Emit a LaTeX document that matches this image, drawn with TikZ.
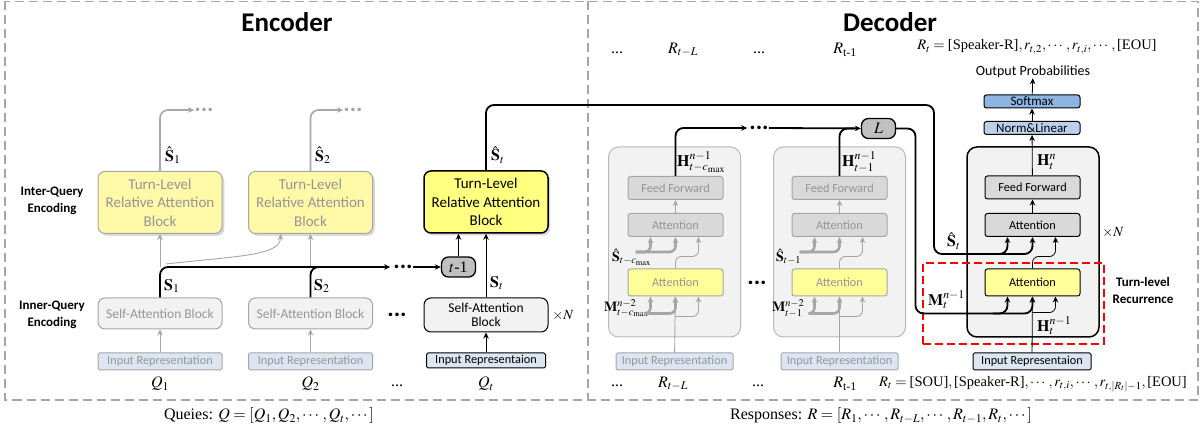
\documentclass[tikz,border=0pt]{standalone}
\usepackage{amsmath}
\usepackage{mathptmx}
\usepackage[no-math]{fontspec}
\setmainfont{Liberation Serif}
\newfontfamily\cali{Carlito}
\usetikzlibrary{arrows.meta,calc,shadows}

\definecolor{tlyellow}{HTML}{FFFF80}
\definecolor{fadeyellow}{HTML}{FFF9A8}
\definecolor{attyellow}{HTML}{FFFF99}
\definecolor{inblue}{HTML}{DCE6F2}
\definecolor{smblue}{HTML}{8DB4E2}
\definecolor{nlblue}{HTML}{B9D1EA}
\definecolor{panel}{HTML}{F2F2F2}
\definecolor{fadegray}{HTML}{A6A6A6}
\definecolor{fadetext}{HTML}{959595}
\definecolor{boxgray}{HTML}{D9D9D9}
\definecolor{tagfill}{HTML}{C0C0C0}

\begin{document}
\begin{tikzpicture}[x=1pt,y=-1pt,
  >={Stealth[length=6pt,width=5.5pt]},
  every node/.style={inner sep=0pt},
  blk/.style={rectangle,draw,rounded corners=2.5pt,align=center,
    font=\cali\fontsize{12.3}{14}\selectfont},
  tlblk/.style={blk,rounded corners=7pt,minimum width=124pt,minimum height=62pt,
    fill=tlyellow,line width=1.5pt,drop shadow={opacity=0.3},
    font=\cali\fontsize{15}{18.5}\selectfont},
  tlfade/.style={tlblk,fill=fadeyellow,draw=fadegray,line width=1pt,text=fadetext},
  sablk/.style={blk,rounded corners=7pt,minimum width=124pt,minimum height=34pt,
    fill=panel,line width=1pt,font=\cali\fontsize{13.5}{14}\selectfont},
  safade/.style={sablk,minimum height=31pt,draw=fadegray,text=fadetext},
  inblk/.style={blk,rounded corners=1.5pt,minimum width=119pt,minimum height=15pt,
    fill=inblue,line width=1pt,font=\cali\fontsize{12.3}{14}\selectfont},
  infade/.style={inblk,minimum width=124pt,minimum height=17pt,draw=fadegray,text=fadetext},
  ffblk/.style={blk,minimum width=95pt,minimum height=23pt,fill=boxgray,line width=1pt},
  fffade/.style={ffblk,draw=fadegray,text=fadetext},
  attblk/.style={ffblk,minimum height=27pt,fill=attyellow},
  attfade/.style={attblk,draw=fadegray,text=fadetext},
  panelblk/.style={rectangle,draw,rounded corners=10pt,fill=panel,line width=1.5pt,
    minimum width=132pt,minimum height=190pt},
  panelfade/.style={panelblk,draw=fadegray!80,line width=1pt},
  blueblk/.style={blk,minimum width=96pt,minimum height=13pt,line width=1pt,
    font=\cali\fontsize{13}{14}\selectfont},
  tagbox/.style={rectangle,draw,rounded corners=7pt,fill=tagfill,line width=1.3pt,
    minimum width=34pt,minimum height=20pt,font=\fontsize{16}{18}\selectfont},
  title/.style={font=\cali\bfseries\fontsize{27}{30}\selectfont},
  side/.style={align=center,font=\cali\bfseries\fontsize{13}{17}\selectfont},
  mlab/.style={font=\fontsize{16}{18}\selectfont},
  slab/.style={font=\fontsize{14}{16}\selectfont},
  bdot/.style={font=\cali\bfseries\fontsize{24}{24}\selectfont},
  gdot/.style={bdot,text=fadegray},
  captext/.style={font=\fontsize{16}{18}\selectfont},
  frame/.style={draw=fadegray,line width=1.3pt,dash pattern=on 9pt off 5pt},
  thinline/.style={draw=black,line width=0.8pt},
  gline/.style={draw=fadegray,line width=0.9pt},
  gwide/.style={draw=fadegray,line width=1.6pt},
  gthick/.style={draw=fadegray,line width=2.6pt},
  bus/.style={draw=black,line width=1.8pt},
  recur/.style={rectangle,draw=red,line width=1.4pt,dash pattern=on 8pt off 4pt,
    minimum width=181pt,minimum height=81pt}
]
\useasboundingbox (0,0) rectangle (1203,435);

% frames
\draw[frame] (5,1.5) rectangle (1198,400);
\draw[frame] (588,1.5) -- (588,400);

\node[title] (enc) at (287,22) {Encoder};
\node[title] (dec) at (890,22) {Decoder};

% ---------------- encoder ----------------
\node[side] (interq) at (52,201) {Inter-Query\\Encoding};
\node[side] (innerq) at (52,315) {Inner-Query\\Encoding};

\node[tlfade] (tl1) at (160,202.5) {Turn-Level\\Relative Attention\\Block};
\node[tlfade] (tl2) at (310.5,202.5) {Turn-Level\\Relative Attention\\Block};
\node[tlblk] (tlt) at (486,202) {Turn-Level\\Relative Attention\\Block};

\node[safade] (sa1) at (160,313.5) {Self-Attention Block};
\node[safade] (sa2) at (310.5,313.5) {Self-Attention Block};
\node[sablk] (sat) at (486,315) {Self-Attention\\Block};
\node[bdot] (edots) at (397,315) {...};
\node[slab] (encN) at (563,316) {$\times N$};

\node[infade] (in1) at (160,361.5) {Input Representation};
\node[infade] (in2) at (310.5,361.5) {Input Representation};
\node[inblk] (int) at (486,360.5) {Input Representaion};

\node[mlab] (q1) at (160,384) {$Q_1$};
\node[mlab] (q2) at (310.5,384) {$Q_2$};
\node[mlab] (qdots) at (397,386) {...};
\node[mlab] (qt) at (486,384) {$Q_t$};

\node[mlab,anchor=west] (s1) at (164,286) {$\mathbf{S}_1$};
\node[mlab,anchor=west] (s2) at (314,286) {$\mathbf{S}_2$};
\node[mlab,anchor=west] (st) at (490,283) {$\mathbf{S}_t$};
\node[mlab,anchor=west] (sh1) at (165,155) {$\hat{\mathbf{S}}_1$};
\node[mlab,anchor=west] (sh2) at (315,155) {$\hat{\mathbf{S}}_2$};
\node[mlab,anchor=west] (sht) at (491,155) {$\hat{\mathbf{S}}_t$};

\node[gdot] (gdots1) at (204,110) {...};
\node[gdot] (gdots2) at (353,110) {...};
\node[bdot] (bdots) at (403,267) {...};
\node[tagbox] (tm1) at (458.5,267) {$t$-1};

\draw[gline,->] (in1) -- (sa1);
\draw[gline,->] (in2) -- (sa2);
\draw[thinline,->] (int) -- (sat);
\draw[thinline,->] (sat) -- (tlt);
\draw[gline,->] (sa1.north |- tm1) -- (tl1);
\draw[gline,->] (sa2.north |- tm1) -- (tl2);
\draw[gline,->] ($(sa1.north |- tm1)+(6,-3)$) .. controls +(70,-8) and +(0,22) .. ($(tl2.south)+(-30,0)$);
\draw[gwide,->,rounded corners=8pt] (tl1.north) |- (gdots1.west);
\draw[gwide,->,rounded corners=8pt] (tl2.north) |- (gdots2.west);

\draw[bus,->,rounded corners=8pt] (sa1.north) |- ($(bdots.west)+(-3,0)$);
\draw[bus,rounded corners=8pt] (sa2.north) |- ($(sa2.north |- tm1)+(30,0)$);
\draw[bus,->] (bdots.east) -- (tm1);
\draw[bus,->] (tm1) -- (tm1 |- tlt.south);

% ---------------- decoder ----------------
\node[panelfade] (pA) at (674.5,242) {};
\node[panelfade] (pB) at (839.5,242) {};
\node[panelblk] (pt) at (1033,242) {};

\node[fffade] (ffA) at (675.5,188) {Feed Forward};
\node[fffade] (attA2) at (675.5,225) {Attention};
\node[attfade] (attA1) at (675.5,282.5) {Attention};
\node[infade,minimum width=117pt] (inA) at (674.5,361.5) {Input Representation};

\node[fffade] (ffB) at (839.5,188) {Feed Forward};
\node[fffade] (attB2) at (839.5,225) {Attention};
\node[attfade] (attB1) at (839.5,282.5) {Attention};
\node[infade,minimum width=117pt] (inB) at (839.5,361.5) {Input Representation};

\node[ffblk] (ff) at (1032.5,187.5) {Feed Forward};
\node[ffblk] (att2) at (1032.5,225) {Attention};
\node[attblk] (att1) at (1032.5,282.5) {Attention};
\node[inblk,minimum width=118pt,minimum height=17pt] (dinp) at (1032,361.5) {Input Representaion};
\node[blueblk,fill=nlblue] (nl) at (1032,128) {Norm\&Linear};
\node[blueblk,fill=smblue] (sm) at (1032,101.5) {Softmax};
\node[font=\cali\fontsize{14}{16}\selectfont] (op) at (1033,72) {Output Probabilities};

\node[recur] (rec) at (1013.5,303.5) {};
\node[side] (reclab) at (1143,290) {Turn-level\\Recurrence};
\node[slab] (decN) at (1113,233) {$\times N$};

\node[tagbox] (L) at (878.5,128.5) {$L$};
\node[bdot] (ddots) at (759,128) {...};
\node[bdot] (mdots) at (757,283) {...};

% labels
\node[mlab,anchor=west] (hA) at (677,162) {$\mathbf{H}^{n-1}_{t-c_{\max}}$};
\node[mlab,anchor=west] (hB) at (842,162) {$\mathbf{H}^{n-1}_{t-1}$};
\node[mlab,anchor=west] (hn) at (1037,162) {$\mathbf{H}^{n}_{t}$};
\node[slab,anchor=west] (shA) at (612,257) {$\hat{\mathbf{S}}_{t-c_{\max}}$};
\node[slab,anchor=west] (shB) at (776,257) {$\hat{\mathbf{S}}_{t-1}$};
\node[slab,anchor=west] (mA) at (604,308) {$\mathbf{M}^{n-2}_{t-c_{\max}}$};
\node[slab,anchor=west] (mB) at (772,308) {$\mathbf{M}^{n-2}_{t-1}$};
\node[mlab,anchor=west] (shd) at (947,241) {$\hat{\mathbf{S}}_t$};
\node[mlab,anchor=west] (md) at (928,300) {$\mathbf{M}^{n-1}_t$};
\node[mlab,anchor=west] (hd) at (1037,326) {$\mathbf{H}^{n-1}_t$};

% response labels
\node[mlab] (rdt1) at (617,53) {...};
\node[mlab] (rtl) at (683,50) {$R_{t-L}$};
\node[mlab] (rdt2) at (759,53) {...};
\node[mlab] (rtm) at (845,50) {$R_{\text{t-1}}$};
\node[font=\fontsize{14.5}{16}\selectfont] (rtop) at (1037,47) {$R_t=\text{[Speaker-R]},r_{t,2},\cdots,r_{t,i},\cdots,\text{[EOU]}$};
\node[mlab] (rdb1) at (617,386) {...};
\node[mlab] (rbl) at (673,384) {$R_{t-L}$};
\node[mlab] (rdb2) at (758,386) {...};
\node[mlab] (rbm) at (845,384) {$R_{\text{t-1}}$};
\node[font=\fontsize{14.5}{16}\selectfont] (rbot) at (1033,384) {$R_t=\text{[SOU]},\text{[Speaker-R]},\cdots,r_{t,i},\cdots,r_{t,|R_t|-1},\text{[EOU]}$};

\node[captext] (qcap) at (269,416) {Queies: $Q=[Q_1,Q_2,\cdots,Q_t,\cdots]$};
\node[captext] (rcap) at (881,416) {Responses: $R=[R_1,\cdots,R_{t-L},\cdots,R_{t-1},R_t,\cdots]$};

% column arrows (faded)
\draw[gline,->] (inA) -- (attA1);
\draw[gline,->,rounded corners=6pt] ($(attA1.south)+(0,20)$) -| ($(attA1.south)+(23,0)$);
\draw[gthick,->,rounded corners=6pt] ($(attA1.south)+(-27,17)$) -| ($(attA1.south)+(-25,0)$);
\draw[gthick,->,rounded corners=6pt] ($(attA1.south)+(-27,17)$) -| (attA1.south);
\draw[gline,->,rounded corners=6pt] (attA1.north) -- ++(0,-12) -| ($(attA2.south)+(23,0)$);
\draw[gthick,->,rounded corners=6pt] ($(attA2.south)+(-40,15)$) -| ($(attA2.south)+(-25,0)$);
\draw[gthick,->,rounded corners=6pt] ($(attA2.south)+(-40,15)$) -| (attA2.south);
\draw[gline,->] (attA2) -- (ffA);

\draw[gline,->] (inB) -- (attB1);
\draw[gline,->,rounded corners=6pt] ($(attB1.south)+(0,20)$) -| ($(attB1.south)+(23,0)$);
\draw[gthick,->,rounded corners=6pt] ($(attB1.south)+(-27,17)$) -| ($(attB1.south)+(-25,0)$);
\draw[gthick,->,rounded corners=6pt] ($(attB1.south)+(-27,17)$) -| (attB1.south);
\draw[gline,->,rounded corners=6pt] (attB1.north) -- ++(0,-12) -| ($(attB2.south)+(23,0)$);
\draw[gthick,->,rounded corners=6pt] ($(attB2.south)+(-40,15)$) -| ($(attB2.south)+(-25,0)$);
\draw[gthick,->,rounded corners=6pt] ($(attB2.south)+(-40,15)$) -| (attB2.south);
\draw[gline,->] (attB2) -- (ffB);

% memory chain
\draw[bus,->,rounded corners=8pt] (ffA.north) |- ($(ddots.west)+(-2,0)$);
\draw[bus,->] (ddots.east) -- (L);
\draw[bus,rounded corners=8pt] (ffB.north) |- ($(ffB.north |- L)+(15,0)$);

% current turn
\draw[thinline,->] (dinp) -- (att1);
\draw[thinline,->,rounded corners=6pt] ($(att1.south)+(0,16)$) -| ($(att1.south)+(23,0)$);
\draw[bus,->,rounded corners=8pt] (L.east) -| ($(att1.south)+(-117,17)$) -| ($(att1.south)+(-25,0)$);
\draw[bus,->,rounded corners=8pt] ($(att1.south)+(-40,17)$) -| (att1.south);
\draw[thinline,->,rounded corners=6pt] (att1.north) -- ++(0,-12) -| ($(att2.south)+(23,0)$);
\coordinate (sturn) at (934,105);
\draw[bus,->,rounded corners=8pt] (tlt.north) |- (sturn) |- ($(att2.south)+(-40,17)$) -| ($(att2.south)+(-25,0)$);
\draw[bus,->,rounded corners=8pt] ($(att2.south)+(-40,17)$) -| (att2.south);
\draw[thinline,->] (att2) -- (ff);
\draw[thinline,->] (ff) -- (nl);
\draw[thinline,->] (nl) -- (sm);
\draw[thinline,->] (sm) -- (op);
\end{tikzpicture}
\end{document}
